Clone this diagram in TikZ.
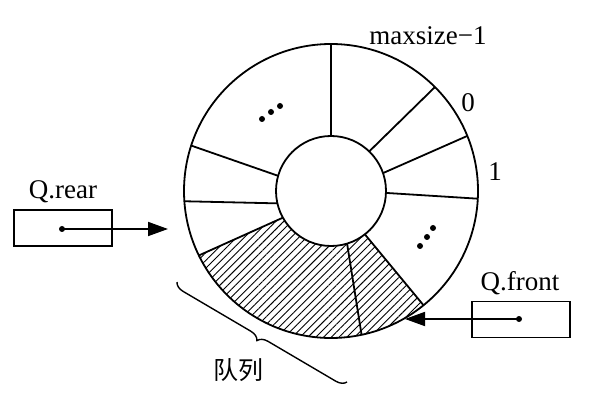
\documentclass[tikz,border=0pt]{standalone}
\usepackage{fontspec}
\setmainfont{Liberation Serif}
\newfontfamily\cjk{Noto Sans CJK SC}
\usetikzlibrary{calc,arrows.meta,patterns.meta,decorations.pathreplacing}
\begin{document}
\begin{tikzpicture}[x=1pt,y=1pt,
  ln/.style={line width=1.8pt},
  lbl/.style={inner sep=0pt,font=\fontsize{27}{30}\selectfont},
  ptr/.style={draw,line width=1.8pt,minimum width=98pt,minimum height=36pt,inner sep=0pt},
  dotc/.style={circle,fill,inner sep=0pt,minimum size=6pt},
  arr/.style={line width=1.8pt,-{Triangle[length=20pt,width=14pt]}}]
\useasboundingbox (0,0) rectangle (609,404);
\coordinate (C) at (331,213);
% hatched region
\path[pattern={Lines[angle=45,distance=5.5pt,line width=0.9pt]}]
  ($(C)+(209:55)$) arc[start angle=209,end angle=308,radius=55]
  -- ($(C)+(309:147)$) arc[start angle=309,end angle=206,radius=147] -- cycle;
% circles
\draw[ln] (C) circle[radius=147];
\draw[ln,fill=white] (C) circle[radius=55];
% radial lines
\foreach \a/\b in {90/90,46/45,19/22,-2/-3,-52/-51,-73/-78,209/206,193/184,164/162}
  \draw[ln] ($(C)+(\a:55)$) -- ($(C)+(\b:147)$);
% dots
\foreach \p in {(262,285),(271,292),(280,298),(420,158),(427,167),(433,176)}
  \fill \p circle[radius=3];
% labels
\node[lbl] (lmax) at (428,368) {maxsize−1};
\node[lbl] (l0) at (468,301) {0};
\node[lbl] (l1) at (495,232) {1};
% Q.rear
\node[lbl] (lrear) at (63,212) {Q.rear};
\node[ptr] (rearbox) at (63,176) {};
\node[dotc] (reardot) at (62,175) {};
\coordinate (reartip) at (168,175);
\draw[arr] (reardot.center) -- (reartip);
% Q.front
\node[lbl] (lfront) at (520,121) {Q.front};
\node[ptr] (frontbox) at (521,84.5) {};
\node[dotc] (frontdot) at (519,85) {};
\coordinate (fronttip) at (405,85);
\draw[arr] (frontdot.center) -- (fronttip);
% brace
\coordinate (b1) at (347,22);
\coordinate (b2) at (177,122);
\draw[line width=1.4pt,decorate,decoration={brace,amplitude=10pt}] (b1) -- (b2);
\node[inner sep=0pt,font=\cjk\fontsize{25}{28}\selectfont] (lq) at (238,34) {队列};
\end{tikzpicture}
\end{document}
